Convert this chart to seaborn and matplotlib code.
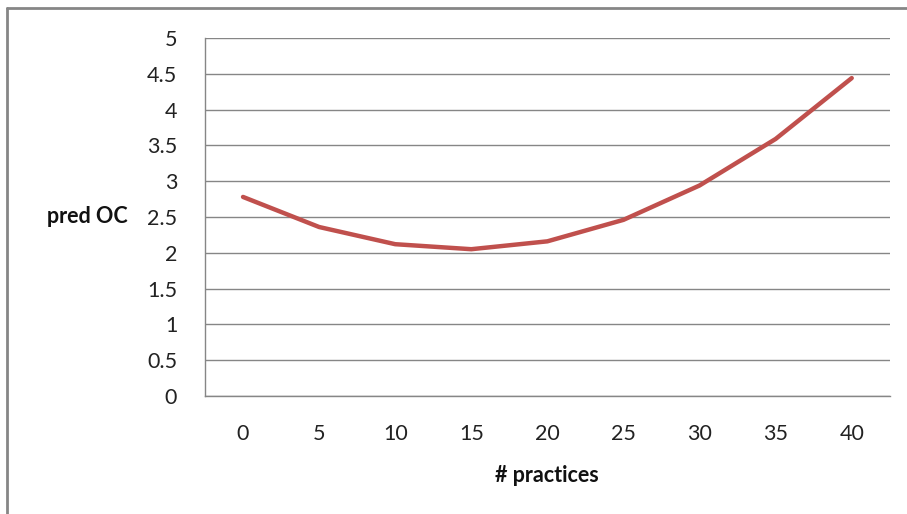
import matplotlib
matplotlib.use("Agg")
import matplotlib.pyplot as plt
from matplotlib.lines import Line2D
import seaborn as sns
import pandas as pd
import numpy as np

practices = [0, 5, 10, 15, 20, 25, 30, 35, 40]
pred_oc = [2.78, 2.36, 2.12, 2.05, 2.16, 2.46, 2.94, 3.59, 4.44]
y_ticks = [0, 0.5, 1, 1.5, 2, 2.5, 3, 3.5, 4, 4.5, 5]
y_labels = ['0', '0.5', '1', '1.5', '2', '2.5', '3', '3.5', '4', '4.5', '5']

df = pd.DataFrame({'pos': np.arange(len(practices)), 'pred OC': pred_oc})

sns.set_style('white')
plt.rcParams['font.family'] = ['Lato', 'DejaVu Sans']

grey = '#868686'
fs = 15.5
fig = plt.figure(figsize=(9.07, 5.14), dpi=100)
ax = fig.add_axes([0.226, 0.2296, 0.755, 0.6965])

sns.lineplot(data=df, x='pos', y='pred OC', color='#C0504D', linewidth=3.2,
             solid_capstyle='round', ax=ax)

ax.set_xlim(-0.5, len(practices) - 0.5)
ax.set_ylim(0, 5)
ax.set_yticks(y_ticks)
ax.set_yticklabels(y_labels, fontsize=fs, color='#222222')
ax.set_xticks(np.arange(len(practices)))
ax.set_xticklabels([str(p) for p in practices], fontsize=fs, color='#222222')
ax.set_xticks(np.arange(len(practices) + 1) - 0.5, minor=True)
ax.tick_params(axis='x', which='major', length=0, pad=20)
ax.tick_params(axis='x', which='minor', length=6, width=1, color=grey, direction='out')
ax.tick_params(axis='y', length=6, width=1, color=grey, direction='out', pad=14)

ax.yaxis.grid(True, color=grey, linewidth=1)
ax.xaxis.grid(False)
ax.set_axisbelow(True)
for s in ['top', 'right']:
    ax.spines[s].set_visible(False)
for s in ['left', 'bottom']:
    ax.spines[s].set_color(grey)
    ax.spines[s].set_linewidth(1)

ax.set_xlabel('# practices', fontsize=fs, fontweight='bold', color='#111111', labelpad=15)
ax.set_ylabel('pred OC', fontsize=fs, fontweight='bold', color='#111111',
              rotation=0, ha='center', va='center')
ax.yaxis.set_label_coords(-0.172, 0.5)

# chart area border (only left and top visible in the crop)
fig.add_artist(Line2D([7 / 907, 7 / 907], [0, 1 - 8 / 514], color=grey, linewidth=2))
fig.add_artist(Line2D([7 / 907, 1], [1 - 8 / 514, 1 - 8 / 514], color=grey, linewidth=2))

fig.savefig('out.png', dpi=100)
